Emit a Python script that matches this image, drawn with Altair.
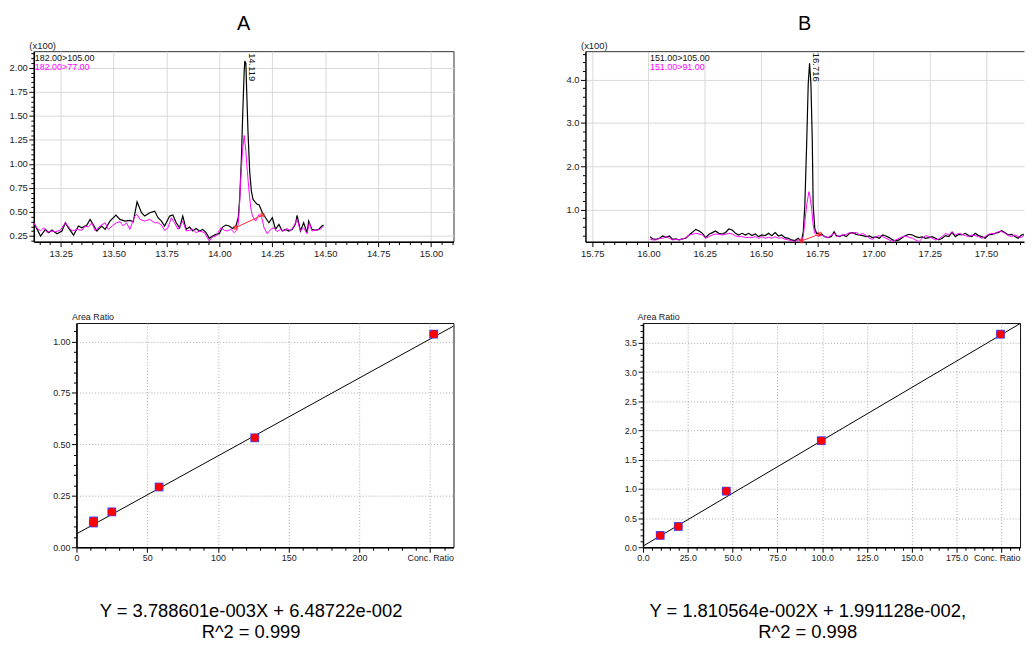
import altair as alt
import numpy as np
import pandas as pd

# ---------------- Chromatogram A (182.00>105.00 black, 182.00>77.00 magenta), intensity x100
tA_k = [13.123,13.155,13.178,13.194,13.209,13.233,13.256,13.272,13.288,13.311,13.334,13.350,13.374,13.389,13.405,13.421,13.444,13.460,13.483,13.511,13.530,13.554,13.577,13.593,13.611,13.632,13.647,13.671,13.694,13.710,13.726,13.741,13.765,13.780,13.796,13.812,13.827,13.843,13.859,13.874,13.890,13.906,13.921,13.937,13.952,13.968,13.984,13.999,14.015,14.031,14.046,14.062,14.078,14.089,14.096,14.104,14.110,14.117,14.120,14.125,14.129,14.135,14.143,14.151,14.159,14.168,14.179,14.187,14.203,14.218,14.234,14.250,14.265,14.281,14.297,14.312,14.328,14.344,14.359,14.367,14.383,14.398,14.414,14.422,14.437,14.453,14.469,14.484,14.492]
iA_k = [0.388,0.250,0.319,0.285,0.312,0.274,0.302,0.388,0.329,0.260,0.354,0.336,0.364,0.423,0.364,0.302,0.354,0.319,0.405,0.468,0.423,0.405,0.412,0.398,0.606,0.492,0.457,0.492,0.509,0.440,0.405,0.354,0.457,0.468,0.388,0.336,0.457,0.319,0.343,0.302,0.329,0.302,0.319,0.285,0.226,0.250,0.267,0.274,0.343,0.364,0.354,0.329,0.354,0.440,0.647,1.061,1.510,1.959,2.070,2.046,1.752,1.338,0.923,0.716,0.630,0.606,0.578,0.578,0.492,0.440,0.388,0.440,0.319,0.371,0.302,0.319,0.302,0.319,0.371,0.464,0.302,0.388,0.285,0.405,0.319,0.309,0.319,0.354,0.364]
tA_m = [13.123,13.139,13.155,13.170,13.186,13.202,13.225,13.248,13.272,13.288,13.303,13.327,13.350,13.366,13.381,13.397,13.413,13.436,13.460,13.475,13.499,13.514,13.530,13.546,13.561,13.577,13.600,13.611,13.624,13.647,13.671,13.694,13.710,13.726,13.741,13.757,13.773,13.788,13.804,13.827,13.843,13.859,13.874,13.890,13.906,13.929,13.952,13.968,13.984,14.007,14.023,14.038,14.054,14.070,14.081,14.090,14.096,14.101,14.109,14.117,14.125,14.132,14.140,14.148,14.156,14.171,14.187,14.200,14.211,14.226,14.242,14.258,14.273,14.289,14.305,14.320,14.336,14.352,14.367,14.383,14.398,14.414,14.425,14.437,14.453,14.477,14.492]
iA_m = [0.388,0.329,0.302,0.336,0.285,0.302,0.295,0.309,0.388,0.343,0.302,0.319,0.309,0.354,0.343,0.388,0.302,0.354,0.388,0.319,0.364,0.388,0.398,0.354,0.388,0.319,0.457,0.474,0.423,0.405,0.423,0.388,0.388,0.364,0.309,0.336,0.440,0.388,0.319,0.405,0.302,0.309,0.319,0.285,0.302,0.285,0.198,0.240,0.250,0.336,0.309,0.302,0.319,0.285,0.309,0.388,0.613,0.854,1.130,1.296,1.130,0.923,0.716,0.544,0.457,0.405,0.474,0.440,0.336,0.274,0.319,0.336,0.295,0.319,0.302,0.329,0.302,0.354,0.423,0.302,0.336,0.274,0.388,0.302,0.309,0.319,0.354]
baseA_t = [14.076, 14.203]
baseA_i = [0.336, 0.467]
peakA_t = [14.119]
peakA_i = [2.070]
peakA_lbl = ["14.119"]

# ---------------- Chromatogram B (151.00>105.00 black, 151.00>91.00 magenta)
tB_k = [16.007,16.019,16.034,16.049,16.063,16.078,16.093,16.107,16.122,16.137,16.151,16.166,16.181,16.195,16.210,16.225,16.240,16.254,16.269,16.284,16.298,16.313,16.328,16.342,16.357,16.372,16.387,16.401,16.416,16.431,16.445,16.460,16.475,16.489,16.504,16.519,16.534,16.548,16.563,16.578,16.592,16.607,16.622,16.636,16.651,16.666,16.680,16.688,16.695,16.703,16.710,16.716,16.722,16.728,16.732,16.739,16.747,16.754,16.761,16.769,16.784,16.798,16.813,16.825,16.835,16.849,16.864,16.879,16.894,16.908,16.923,16.937,16.952,16.967,16.982,16.996,17.011,17.026,17.041,17.055,17.070,17.085,17.099,17.114,17.129,17.143,17.158,17.173,17.187,17.202,17.217,17.232,17.246,17.261,17.276,17.290,17.305,17.320,17.335,17.349,17.364,17.379,17.393,17.408,17.423,17.437,17.452,17.467,17.482,17.496,17.511,17.526,17.540,17.555,17.570,17.585,17.599,17.614,17.629,17.643,17.658,17.668]
iB_k = [0.372,0.318,0.310,0.333,0.387,0.356,0.387,0.310,0.318,0.295,0.318,0.333,0.410,0.471,0.540,0.502,0.448,0.349,0.425,0.464,0.502,0.448,0.433,0.464,0.548,0.525,0.448,0.410,0.448,0.410,0.448,0.395,0.433,0.372,0.410,0.395,0.448,0.395,0.464,0.387,0.410,0.349,0.333,0.295,0.280,0.333,0.257,0.487,1.100,2.500,3.900,4.380,3.900,2.600,1.100,0.563,0.448,0.448,0.410,0.433,0.372,0.349,0.372,0.487,0.395,0.372,0.410,0.372,0.448,0.464,0.425,0.410,0.395,0.372,0.387,0.349,0.364,0.333,0.410,0.387,0.349,0.295,0.272,0.295,0.349,0.395,0.425,0.410,0.372,0.349,0.364,0.333,0.349,0.372,0.333,0.295,0.333,0.395,0.372,0.471,0.372,0.425,0.410,0.448,0.395,0.372,0.448,0.395,0.372,0.333,0.410,0.425,0.448,0.471,0.510,0.464,0.410,0.425,0.372,0.333,0.410,0.425]
tB_m = [16.007,16.019,16.034,16.049,16.063,16.078,16.093,16.107,16.122,16.137,16.151,16.166,16.181,16.195,16.210,16.225,16.240,16.254,16.269,16.284,16.298,16.313,16.328,16.342,16.357,16.372,16.387,16.401,16.416,16.431,16.445,16.460,16.475,16.489,16.504,16.519,16.534,16.548,16.563,16.578,16.592,16.607,16.622,16.636,16.651,16.666,16.680,16.688,16.695,16.703,16.713,16.717,16.725,16.732,16.739,16.747,16.754,16.769,16.783,16.798,16.813,16.827,16.835,16.849,16.864,16.879,16.894,16.908,16.923,16.937,16.952,16.967,16.982,16.996,17.011,17.026,17.041,17.055,17.070,17.085,17.099,17.114,17.129,17.143,17.158,17.173,17.187,17.202,17.217,17.232,17.246,17.261,17.276,17.290,17.305,17.320,17.335,17.349,17.364,17.379,17.393,17.408,17.423,17.437,17.452,17.467,17.482,17.496,17.511,17.526,17.540,17.555,17.570,17.585,17.599,17.614,17.629,17.643,17.658,17.668]
iB_m = [0.318,0.295,0.295,0.333,0.333,0.372,0.333,0.295,0.310,0.295,0.318,0.349,0.410,0.425,0.448,0.433,0.410,0.333,0.372,0.410,0.433,0.425,0.410,0.425,0.448,0.433,0.387,0.372,0.372,0.349,0.356,0.349,0.372,0.333,0.372,0.333,0.356,0.333,0.372,0.333,0.349,0.310,0.295,0.272,0.257,0.295,0.272,0.372,0.716,1.100,1.410,1.330,1.023,0.640,0.448,0.410,0.372,0.410,0.372,0.349,0.410,0.448,0.372,0.387,0.410,0.425,0.464,0.448,0.471,0.410,0.448,0.395,0.333,0.310,0.372,0.395,0.372,0.333,0.295,0.257,0.295,0.333,0.372,0.387,0.356,0.333,0.295,0.257,0.333,0.395,0.372,0.333,0.295,0.318,0.372,0.448,0.410,0.487,0.410,0.448,0.425,0.395,0.372,0.410,0.395,0.372,0.333,0.372,0.425,0.448,0.433,0.487,0.487,0.448,0.395,0.372,0.410,0.372,0.349,0.410]
baseB_t = [16.680, 16.761]
baseB_i = [0.272, 0.430]
peakB_t = [16.716]
peakB_i = [4.380]
peakB_lbl = ["16.716"]

# ---------------- Calibration curves
calA_x = [12.1, 12.1, 25.0, 58.4, 126.0, 252.5]
calA_y = [0.128, 0.118, 0.172, 0.293, 0.532, 1.036]
fitA_x = [0.0, 266.5]
fitA_y = [0.065, 1.075]
calB_x = [9.6, 19.7, 46.5, 99.5, 199.5]
calB_y = [0.203, 0.356, 0.961, 1.825, 3.649]
fitB_x = [0.0, 210.4]
fitB_y = [0.020, 3.830]

eqA = ["Y = 3.788601e-003X + 6.48722e-002", "R^2 = 0.999"]
eqB = ["Y = 1.810564e-002X + 1.991128e-002,", "R^2 = 0.998"]

FONT = "Liberation Sans"
MAG = "#ff00ff"
RED = "#ff2a2a"


def ticked_axis(orient, major, minor, lo, hi, fmt, size, grid_color, label_max=None, dash=None, **extra):
    n0 = int(np.ceil(lo / minor - 1e-9))
    n1 = int(np.floor(hi / minor + 1e-9))
    vals = [round(k * minor, 6) for k in range(n0, n1 + 1)]
    test = f"abs(datum.value / {major} - round(datum.value / {major})) < 0.0001"
    ltest = test if label_max is None else f"({test}) && datum.value < {label_max}"
    kw = dict(
        orient=orient, values=vals,
        labelExpr=f"({ltest}) ? format(datum.value, '{fmt}') : ''",
        tickSize={"condition": {"test": test, "value": 5}, "value": 3},
        grid=True, gridColor=grid_color,
        gridOpacity={"condition": {"test": test, "value": 1}, "value": 0},
        labelFont=FONT, labelFontSize=size, labelColor="#222",
        labelOverlap=False, labelBound=False, labelFlush=False,
        domainColor="#000", domainWidth=1.5, tickColor="#000", tickWidth=1,
        labelPadding=1.5,
    )
    if dash is not None:
        kw["gridDash"] = dash
    kw.update(extra)
    return alt.Axis(**kw)


def chromatogram(tk, ik, tm, im, bt, bi, pt, pi, plbl, xdom, ydom, ymajor, yminor, yfmt,
                 width, height, yext, ch1, ch2, ch_x, title, lbl_dx, lbl_dy, open_right):
    xs = alt.Scale(domain=xdom, nice=False, zero=False)
    ys = alt.Scale(domain=ydom, nice=False, zero=False)
    xaxis = ticked_axis("bottom", 0.25, 0.05, xdom[0], xdom[1], ".2f", 9.5, "#d9d9d9", title=None)
    yaxis = ticked_axis("left", ymajor, yminor, ydom[0], ydom[1], yfmt, 9.5, "#d9d9d9",
                        title="(x100)", titleAngle=0, titleAlign="left", titleBaseline="bottom",
                        titleX=-5, titleY=-1, titleFont=FONT, titleFontSize=9.5,
                        titleFontWeight="normal", titleColor="#222",
                        minExtent=yext, maxExtent=yext)
    dk = pd.DataFrame({"t": tk, "v": ik})
    dm = pd.DataFrame({"t": tm, "v": im})
    db = pd.DataFrame({"t": bt, "v": bi})
    dp = pd.DataFrame({"t": pt, "v": pi, "lbl": plbl})
    blk = alt.Chart(dk).mark_line(color="#000", strokeWidth=1.2, clip=True).encode(
        x=alt.X("t:Q", scale=xs, axis=xaxis), y=alt.Y("v:Q", scale=ys, axis=yaxis))
    mag = alt.Chart(dm).mark_line(color=MAG, strokeWidth=1, clip=True).encode(
        x=alt.X("t:Q", scale=xs, axis=None), y=alt.Y("v:Q", scale=ys, axis=None))
    if open_right:
        top_axis = alt.Axis(orient="top", labels=False, ticks=False, grid=False, domain=True,
                            domainColor="#333", domainWidth=1, title=None, minExtent=0, maxExtent=0)
    else:
        top_axis = None
    base = alt.Chart(db).mark_line(color=RED, strokeWidth=1).encode(
        x=alt.X("t:Q", scale=xs, axis=top_axis), y=alt.Y("v:Q", scale=ys, axis=None))
    marks = alt.Chart(db).mark_point(shape="cross", angle=45, size=28, filled=True, color=RED).encode(
        x=alt.X("t:Q", scale=xs, axis=None), y=alt.Y("v:Q", scale=ys, axis=None))
    plab = alt.Chart(dp).mark_text(angle=90, align="left", baseline="bottom", dx=lbl_dx, dy=lbl_dy,
                                   font=FONT, fontSize=9.5, color="#111").encode(
        x=alt.X("t:Q", scale=xs, axis=None), y=alt.Y("v:Q", scale=ys, axis=None), text="lbl:N")
    one = pd.DataFrame({"k": [0]})
    c1 = alt.Chart(one).mark_text(text=ch1, align="left", baseline="alphabetic", font=FONT,
                                  fontSize=9, color="#111").encode(x=alt.value(ch_x), y=alt.value(10))
    c2 = alt.Chart(one).mark_text(text=ch2, align="left", baseline="alphabetic", font=FONT,
                                  fontSize=9, color=MAG).encode(x=alt.value(ch_x), y=alt.value(19))
    ch = alt.layer(blk, mag, base, marks, plab, c1, c2).resolve_axis(x="independent", y="independent")
    props = dict(width=width, height=height,
                 title=alt.Title(title, orient="top", anchor="middle", frame="group", font=FONT,
                                 fontSize=20, fontWeight="normal", color="#000",
                                 baseline="alphabetic", offset=-10))
    if open_right:
        props["view"] = alt.ViewBackground(stroke="transparent")
    return ch.properties(**props)


def calibration(px, py, fx, fy, xdom, ydom, xmajor, xminor, xfmt, xlabel_max, ymajor, yminor, yfmt,
                width, height, ytitle_x, eq, eq_dx):
    xs = alt.Scale(domain=xdom, nice=False, zero=False)
    ys = alt.Scale(domain=ydom, nice=False, zero=False)
    xaxis = ticked_axis("bottom", xmajor, xminor, xdom[0], xdom[1], xfmt, 9, "#a8a8a8",
                        label_max=xlabel_max, dash=[1, 2],
                        title="Conc. Ratio", titleX=width, titleY=6.5, titleAlign="right",
                        titleBaseline="top", titleFont=FONT, titleFontSize=9,
                        titleFontWeight="normal", titleColor="#222")
    yaxis = ticked_axis("left", ymajor, yminor, ydom[0], ydom[1], yfmt, 9, "#a8a8a8", dash=[1, 2],
                        title="Area Ratio", titleAngle=0, titleAlign="left", titleBaseline="bottom",
                        titleX=ytitle_x, titleY=-2, titleFont=FONT, titleFontSize=9,
                        titleFontWeight="normal", titleColor="#222")
    dfit = pd.DataFrame({"x": fx, "y": fy})
    dpts = pd.DataFrame({"x": px, "y": py})
    line = alt.Chart(dfit).mark_line(color="#000", strokeWidth=1).encode(
        x=alt.X("x:Q", scale=xs, axis=xaxis), y=alt.Y("y:Q", scale=ys, axis=yaxis))
    sq = alt.Chart(dpts).mark_square(size=78, color="#4040ff", opacity=1).encode(
        x=alt.X("x:Q", scale=xs, axis=None), y=alt.Y("y:Q", scale=ys, axis=None))
    dot = alt.Chart(dpts).mark_circle(size=66, color="#ff0000", opacity=1).encode(
        x=alt.X("x:Q", scale=xs, axis=None), y=alt.Y("y:Q", scale=ys, axis=None))
    return alt.layer(line, sq, dot).resolve_axis(x="independent", y="independent").properties(
        width=width, height=height,
        view=alt.ViewBackground(stroke="#111", strokeWidth=1),
        title=alt.Title(eq, orient="bottom", anchor="middle", frame="group", font=FONT,
                        fontSize=18.5, fontWeight="normal", color="#000", lineHeight=21,
                        baseline="top", offset=40, dx=eq_dx))


def spacer(w):
    one = pd.DataFrame({"k": [0]})
    return alt.Chart(one).mark_point(opacity=0).encode(
        x=alt.value(0), y=alt.value(0)).properties(
        width=w, height=10, view=alt.ViewBackground(stroke="transparent"))


chromA = chromatogram(tA_k, iA_k, tA_m, iA_m, baseA_t, baseA_i, peakA_t, peakA_i, peakA_lbl,
                      [13.123, 15.106], [0.191, 2.173], 0.25, 0.05, ".2f",
                      423, 192, 25, "182.00>105.00", "182.00>77.00", 1, "A", -8, -2, False)
chromB = chromatogram(tB_k, iB_k, tB_m, iB_m, baseB_t, baseB_i, peakB_t, peakB_i, peakB_lbl,
                      [15.720, 17.669], [0.255, 4.66], 1.0, 0.2, ".1f",
                      442, 192, 30, "151.00>105.00", "151.00>91.00", 65, "B", -10.5, -1.3, True)
calA = calibration(calA_x, calA_y, fitA_x, fitA_y, [0, 266.5], [0, 1.09], 50, 10, "d", 240,
                   0.25, 0.05, ".2f", 380, 226, -5, eqA, -14)
calB = calibration(calB_x, calB_y, fitB_x, fitB_y, [0, 210.4], [0, 3.84], 25, 5, ".1f", 190,
                   0.5, 0.1, ".1f", 380, 226, -6, eqB, -24)

row1 = alt.hconcat(chromA, chromB, spacing=133, bounds="flush")
row2 = alt.hconcat(spacer(33), calA, spacer(171), calB, spacing=10, bounds="flush")
chart = alt.vconcat(row1, row2, spacing=53).properties(
    padding={"left": 0, "right": 0, "top": 3, "bottom": 0},
    background="white",
).configure_view(stroke="#333", strokeWidth=1)

chart.save("out.html", embed_options={"renderer": "svg", "actions": False})
